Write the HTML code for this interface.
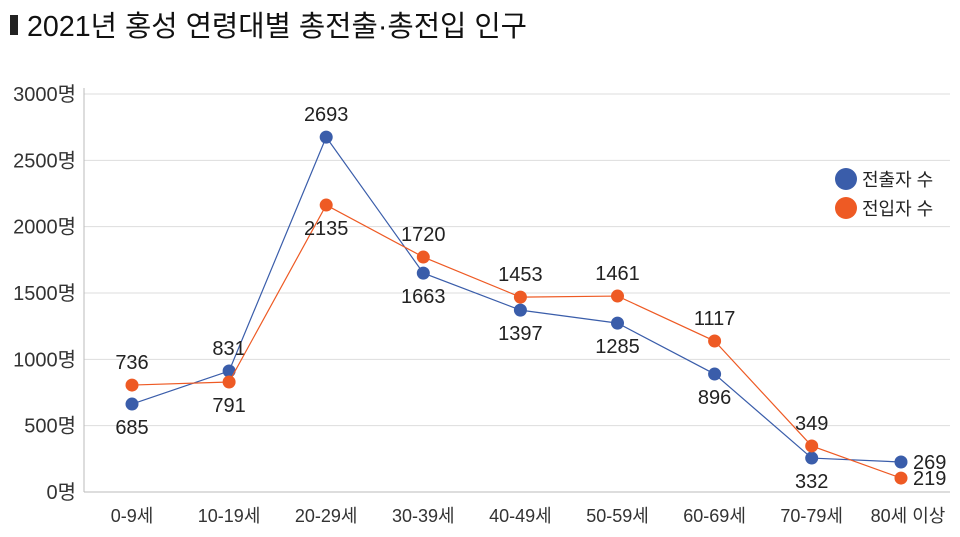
<!DOCTYPE html>
<html><head><meta charset="utf-8"><style>
body{margin:0;background:#fff;}
svg{display:block;font-family:"Liberation Sans","Noto Sans CJK KR",sans-serif;}
</style></head><body>
<svg id="chart" width="960" height="537" viewBox="0 0 960 537">
<rect x="10" y="15" width="8" height="20" fill="#222"/>
<text x="27" y="36" font-size="29" fill="#111" textLength="500" lengthAdjust="spacingAndGlyphs">2021년 홍성 연령대별 총전출·총전입 인구</text>
<g id="grid"></g><g id="series"></g>
<g>
<circle cx="846" cy="179" r="11" fill="#3a5daa"/>
<text x="862" y="186" font-size="18" fill="#222">전출자 수</text>
<circle cx="846" cy="208" r="11" fill="#ee5a24"/>
<text x="862" y="215" font-size="18" fill="#222">전입자 수</text>
</g>
</svg>
<script>
const categories=["0-9세","10-19세","20-29세","30-39세","40-49세","50-59세","60-69세","70-79세","80세 이상"];
const outValues=[663,912,2675,1650,1371,1273,889,256,226];
const inValues=[806,829,2163,1771,1469,1477,1138,347,105];
const outLabels=["685","831","2693","1663","1397","1285","896","332","269"];
const inLabels=["736","791","2135","1720","1453","1461","1117","349","219"];
const yTicks=[0,500,1000,1500,2000,2500,3000];
const outPos=["b","a","a","b","b","b","b","b","r"];
const inPos=["a","b","b","a","a","a","a","a","r"];
const NS="http://www.w3.org/2000/svg";
const X=i=>i===8?901:132+i*97.1;
const Y=v=>492-v*(398/3000);
function mk(t,a,p){const e=document.createElementNS(NS,t);for(const k in a)e.setAttribute(k,a[k]);p.appendChild(e);return e;}
const grid=document.getElementById('grid'),ser=document.getElementById('series');
yTicks.forEach(t=>{
 const l=mk('line',{x1:84,x2:950,y1:Y(t),y2:Y(t),stroke:t===0?'#bbb':'#ddd','stroke-width':1},grid);
 
 
 const tx=mk('text',{x:76,y:Y(t)+7,'text-anchor':'end','font-size':20,fill:'#333'},grid);tx.textContent=t+'명';
 
 
});
const ax=mk('line',{x1:84,x2:84,y1:88,y2:492,stroke:'#bbb'},grid);


categories.forEach((c,i)=>{
 const tx=mk('text',{x:i===8?908:X(i),y:522,'text-anchor':'middle','font-size':18,fill:'#333'},grid);tx.textContent=c;
 
 
});
function draw(vals,labels,pos,color,name){
 const pl=mk('polyline',{points:vals.map((v,i)=>X(i)+','+Y(v)).join(' '),fill:'none',stroke:color,'stroke-width':1.2},ser);
 
 
 vals.forEach((v,i)=>{
  const c=mk('circle',{cx:X(i),cy:Y(v),r:6.5,fill:color},ser);
  
  
  let x=X(i),y=Y(v),a='middle';
  if(pos[i]==='a')y-=16;else if(pos[i]==='b')y+=30;else{x+=12;a='start';y+=7;}
  const t=mk('text',{x:x,y:y,'text-anchor':a,'font-size':20,fill:'#222'},ser);t.textContent=labels[i];
  
  
 });
}
draw(outValues,outLabels,outPos,'#3a5daa','outflow');
draw(inValues,inLabels,inPos,'#ee5a24','inflow');
</script>
</body></html>
